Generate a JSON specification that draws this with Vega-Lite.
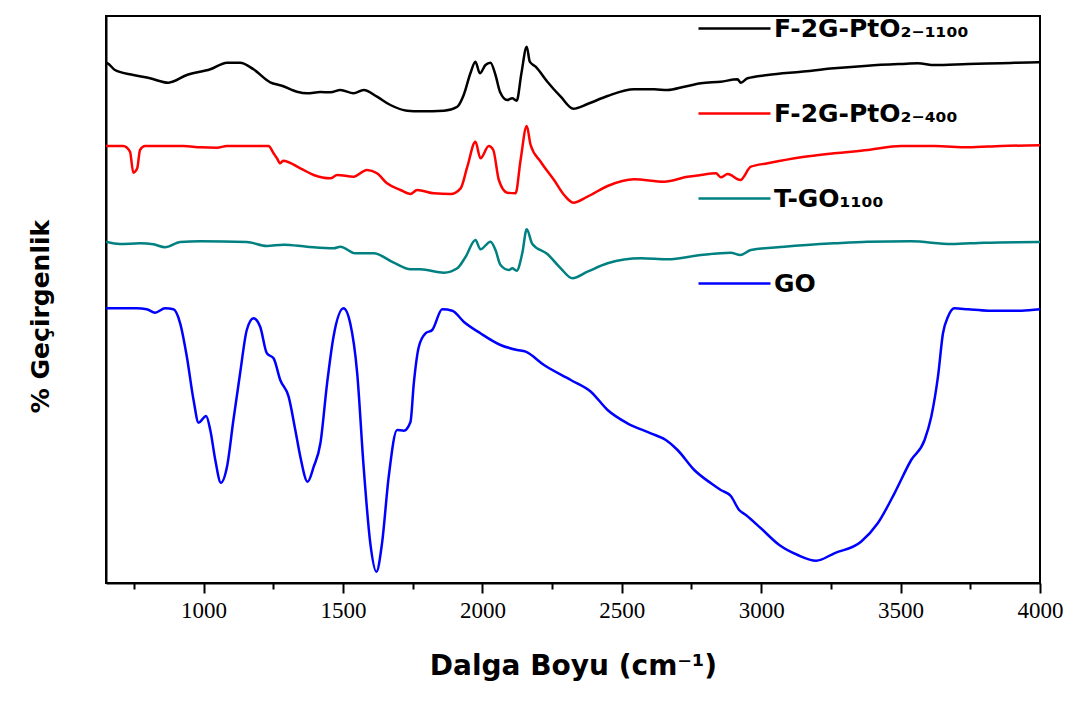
{
  "$schema": "https://vega.github.io/schema/vega-lite/v6.json",
  "width": 934,
  "height": 567,
  "autosize": {"type": "none"},
  "padding": {"left": 106, "top": 16, "right": 44, "bottom": 119},
  "background": "white",
  "config": {"view": {"stroke": "black", "strokeWidth": 2}},
  "data": {"values": [
    {"sample":"F-2G-PtO2-1100","wavenumber":650,"T":520},{"sample":"F-2G-PtO2-1100","wavenumber":655,"T":519.7},{"sample":"F-2G-PtO2-1100","wavenumber":682,"T":513},{"sample":"F-2G-PtO2-1100","wavenumber":748,"T":508},{"sample":"F-2G-PtO2-1100","wavenumber":808,"T":504.7},{"sample":"F-2G-PtO2-1100","wavenumber":874,"T":500.3},{"sample":"F-2G-PtO2-1100","wavenumber":940,"T":508},{"sample":"F-2G-PtO2-1100","wavenumber":1024,"T":513.7},{"sample":"F-2G-PtO2-1100","wavenumber":1084,"T":520.3},{"sample":"F-2G-PtO2-1100","wavenumber":1131,"T":520.3},{"sample":"F-2G-PtO2-1100","wavenumber":1179,"T":513.7},{"sample":"F-2G-PtO2-1100","wavenumber":1239,"T":500.7},{"sample":"F-2G-PtO2-1100","wavenumber":1281,"T":497.3},{"sample":"F-2G-PtO2-1100","wavenumber":1335,"T":491.3},{"sample":"F-2G-PtO2-1100","wavenumber":1371,"T":489.7},{"sample":"F-2G-PtO2-1100","wavenumber":1419,"T":491},{"sample":"F-2G-PtO2-1100","wavenumber":1455,"T":490.7},{"sample":"F-2G-PtO2-1100","wavenumber":1491,"T":493},{"sample":"F-2G-PtO2-1100","wavenumber":1538,"T":489.7},{"sample":"F-2G-PtO2-1100","wavenumber":1574,"T":493},{"sample":"F-2G-PtO2-1100","wavenumber":1622,"T":486.3},{"sample":"F-2G-PtO2-1100","wavenumber":1670,"T":478},{"sample":"F-2G-PtO2-1100","wavenumber":1730,"T":472.3},{"sample":"F-2G-PtO2-1100","wavenumber":1778,"T":471.7},{"sample":"F-2G-PtO2-1100","wavenumber":1862,"T":472.3},{"sample":"F-2G-PtO2-1100","wavenumber":1910,"T":476.3},{"sample":"F-2G-PtO2-1100","wavenumber":1933,"T":488},{"sample":"F-2G-PtO2-1100","wavenumber":1957,"T":509.7},{"sample":"F-2G-PtO2-1100","wavenumber":1975,"T":521.3},{"sample":"F-2G-PtO2-1100","wavenumber":1991,"T":509.7},{"sample":"F-2G-PtO2-1100","wavenumber":2011,"T":518},{"sample":"F-2G-PtO2-1100","wavenumber":2029,"T":520.3},{"sample":"F-2G-PtO2-1100","wavenumber":2047,"T":508},{"sample":"F-2G-PtO2-1100","wavenumber":2063,"T":491.3},{"sample":"F-2G-PtO2-1100","wavenumber":2089,"T":483},{"sample":"F-2G-PtO2-1100","wavenumber":2107,"T":484.7},{"sample":"F-2G-PtO2-1100","wavenumber":2123,"T":482.3},{"sample":"F-2G-PtO2-1100","wavenumber":2140,"T":509.7},{"sample":"F-2G-PtO2-1100","wavenumber":2159,"T":536.3},{"sample":"F-2G-PtO2-1100","wavenumber":2170,"T":521.3},{"sample":"F-2G-PtO2-1100","wavenumber":2191,"T":516.3},{"sample":"F-2G-PtO2-1100","wavenumber":2233,"T":501.3},{"sample":"F-2G-PtO2-1100","wavenumber":2281,"T":486.3},{"sample":"F-2G-PtO2-1100","wavenumber":2326,"T":474.3},{"sample":"F-2G-PtO2-1100","wavenumber":2377,"T":479},{"sample":"F-2G-PtO2-1100","wavenumber":2449,"T":487},{"sample":"F-2G-PtO2-1100","wavenumber":2544,"T":493.7},{"sample":"F-2G-PtO2-1100","wavenumber":2616,"T":493.7},{"sample":"F-2G-PtO2-1100","wavenumber":2664,"T":493},{"sample":"F-2G-PtO2-1100","wavenumber":2724,"T":496.3},{"sample":"F-2G-PtO2-1100","wavenumber":2784,"T":499.7},{"sample":"F-2G-PtO2-1100","wavenumber":2855,"T":501.3},{"sample":"F-2G-PtO2-1100","wavenumber":2915,"T":503.7},{"sample":"F-2G-PtO2-1100","wavenumber":2927,"T":500.3},{"sample":"F-2G-PtO2-1100","wavenumber":2951,"T":504.7},{"sample":"F-2G-PtO2-1100","wavenumber":3023,"T":508},{"sample":"F-2G-PtO2-1100","wavenumber":3143,"T":511.3},{"sample":"F-2G-PtO2-1100","wavenumber":3262,"T":514.7},{"sample":"F-2G-PtO2-1100","wavenumber":3382,"T":517.3},{"sample":"F-2G-PtO2-1100","wavenumber":3502,"T":519},{"sample":"F-2G-PtO2-1100","wavenumber":3562,"T":519.7},{"sample":"F-2G-PtO2-1100","wavenumber":3622,"T":518},{"sample":"F-2G-PtO2-1100","wavenumber":3742,"T":519},{"sample":"F-2G-PtO2-1100","wavenumber":3861,"T":519.7},{"sample":"F-2G-PtO2-1100","wavenumber":3993,"T":520.7},{"sample":"F-2G-PtO2-1100","wavenumber":4000,"T":520.7},
    {"sample":"F-2G-PtO2-400","wavenumber":650,"T":437},{"sample":"F-2G-PtO2-400","wavenumber":712,"T":437},{"sample":"F-2G-PtO2-400","wavenumber":736,"T":431.3},{"sample":"F-2G-PtO2-400","wavenumber":748,"T":410.3},{"sample":"F-2G-PtO2-400","wavenumber":762,"T":414.7},{"sample":"F-2G-PtO2-400","wavenumber":772,"T":433},{"sample":"F-2G-PtO2-400","wavenumber":790,"T":437},{"sample":"F-2G-PtO2-400","wavenumber":928,"T":437},{"sample":"F-2G-PtO2-400","wavenumber":988,"T":435.7},{"sample":"F-2G-PtO2-400","wavenumber":1048,"T":435.3},{"sample":"F-2G-PtO2-400","wavenumber":1084,"T":437},{"sample":"F-2G-PtO2-400","wavenumber":1233,"T":437},{"sample":"F-2G-PtO2-400","wavenumber":1251,"T":429.7},{"sample":"F-2G-PtO2-400","wavenumber":1263,"T":424.7},{"sample":"F-2G-PtO2-400","wavenumber":1275,"T":419.7},{"sample":"F-2G-PtO2-400","wavenumber":1285,"T":422.3},{"sample":"F-2G-PtO2-400","wavenumber":1347,"T":414.7},{"sample":"F-2G-PtO2-400","wavenumber":1395,"T":408},{"sample":"F-2G-PtO2-400","wavenumber":1455,"T":404.7},{"sample":"F-2G-PtO2-400","wavenumber":1479,"T":408},{"sample":"F-2G-PtO2-400","wavenumber":1538,"T":406.3},{"sample":"F-2G-PtO2-400","wavenumber":1586,"T":413},{"sample":"F-2G-PtO2-400","wavenumber":1622,"T":409.7},{"sample":"F-2G-PtO2-400","wavenumber":1658,"T":399.7},{"sample":"F-2G-PtO2-400","wavenumber":1706,"T":393},{"sample":"F-2G-PtO2-400","wavenumber":1742,"T":389},{"sample":"F-2G-PtO2-400","wavenumber":1766,"T":393},{"sample":"F-2G-PtO2-400","wavenumber":1826,"T":389.7},{"sample":"F-2G-PtO2-400","wavenumber":1886,"T":389},{"sample":"F-2G-PtO2-400","wavenumber":1922,"T":394.7},{"sample":"F-2G-PtO2-400","wavenumber":1946,"T":416.3},{"sample":"F-2G-PtO2-400","wavenumber":1975,"T":441.3},{"sample":"F-2G-PtO2-400","wavenumber":1993,"T":424.7},{"sample":"F-2G-PtO2-400","wavenumber":2023,"T":437},{"sample":"F-2G-PtO2-400","wavenumber":2039,"T":433},{"sample":"F-2G-PtO2-400","wavenumber":2059,"T":403},{"sample":"F-2G-PtO2-400","wavenumber":2089,"T":390.3},{"sample":"F-2G-PtO2-400","wavenumber":2119,"T":389.7},{"sample":"F-2G-PtO2-400","wavenumber":2137,"T":423},{"sample":"F-2G-PtO2-400","wavenumber":2159,"T":457},{"sample":"F-2G-PtO2-400","wavenumber":2173,"T":438},{"sample":"F-2G-PtO2-400","wavenumber":2209,"T":421.3},{"sample":"F-2G-PtO2-400","wavenumber":2257,"T":403},{"sample":"F-2G-PtO2-400","wavenumber":2293,"T":388},{"sample":"F-2G-PtO2-400","wavenumber":2326,"T":380.3},{"sample":"F-2G-PtO2-400","wavenumber":2377,"T":386.3},{"sample":"F-2G-PtO2-400","wavenumber":2449,"T":397},{"sample":"F-2G-PtO2-400","wavenumber":2544,"T":403.7},{"sample":"F-2G-PtO2-400","wavenumber":2652,"T":401.3},{"sample":"F-2G-PtO2-400","wavenumber":2736,"T":406.3},{"sample":"F-2G-PtO2-400","wavenumber":2784,"T":408},{"sample":"F-2G-PtO2-400","wavenumber":2838,"T":409.7},{"sample":"F-2G-PtO2-400","wavenumber":2855,"T":405.7},{"sample":"F-2G-PtO2-400","wavenumber":2880,"T":409},{"sample":"F-2G-PtO2-400","wavenumber":2925,"T":403},{"sample":"F-2G-PtO2-400","wavenumber":2963,"T":416.3},{"sample":"F-2G-PtO2-400","wavenumber":3023,"T":419.7},{"sample":"F-2G-PtO2-400","wavenumber":3143,"T":425.7},{"sample":"F-2G-PtO2-400","wavenumber":3262,"T":429.7},{"sample":"F-2G-PtO2-400","wavenumber":3382,"T":433},{"sample":"F-2G-PtO2-400","wavenumber":3502,"T":437},{"sample":"F-2G-PtO2-400","wavenumber":3622,"T":437},{"sample":"F-2G-PtO2-400","wavenumber":3742,"T":435.7},{"sample":"F-2G-PtO2-400","wavenumber":3861,"T":437},{"sample":"F-2G-PtO2-400","wavenumber":4000,"T":437.7},
    {"sample":"T-GO1100","wavenumber":650,"T":341.3},{"sample":"T-GO1100","wavenumber":700,"T":339},{"sample":"T-GO1100","wavenumber":772,"T":339.7},{"sample":"T-GO1100","wavenumber":820,"T":338.7},{"sample":"T-GO1100","wavenumber":862,"T":335.7},{"sample":"T-GO1100","wavenumber":916,"T":341},{"sample":"T-GO1100","wavenumber":988,"T":341.7},{"sample":"T-GO1100","wavenumber":1155,"T":341},{"sample":"T-GO1100","wavenumber":1227,"T":337},{"sample":"T-GO1100","wavenumber":1287,"T":338.3},{"sample":"T-GO1100","wavenumber":1371,"T":336.3},{"sample":"T-GO1100","wavenumber":1466,"T":334.7},{"sample":"T-GO1100","wavenumber":1491,"T":336.3},{"sample":"T-GO1100","wavenumber":1544,"T":329.7},{"sample":"T-GO1100","wavenumber":1610,"T":329.7},{"sample":"T-GO1100","wavenumber":1682,"T":320.3},{"sample":"T-GO1100","wavenumber":1742,"T":313.7},{"sample":"T-GO1100","wavenumber":1778,"T":313.7},{"sample":"T-GO1100","wavenumber":1862,"T":310.3},{"sample":"T-GO1100","wavenumber":1910,"T":314.7},{"sample":"T-GO1100","wavenumber":1940,"T":326.3},{"sample":"T-GO1100","wavenumber":1975,"T":343},{"sample":"T-GO1100","wavenumber":1993,"T":333.7},{"sample":"T-GO1100","wavenumber":2029,"T":341.3},{"sample":"T-GO1100","wavenumber":2047,"T":333},{"sample":"T-GO1100","wavenumber":2065,"T":318},{"sample":"T-GO1100","wavenumber":2095,"T":313},{"sample":"T-GO1100","wavenumber":2107,"T":314.7},{"sample":"T-GO1100","wavenumber":2123,"T":312.3},{"sample":"T-GO1100","wavenumber":2143,"T":329.7},{"sample":"T-GO1100","wavenumber":2159,"T":353.7},{"sample":"T-GO1100","wavenumber":2179,"T":339},{"sample":"T-GO1100","wavenumber":2233,"T":329},{"sample":"T-GO1100","wavenumber":2281,"T":314.7},{"sample":"T-GO1100","wavenumber":2323,"T":304.7},{"sample":"T-GO1100","wavenumber":2377,"T":311.3},{"sample":"T-GO1100","wavenumber":2449,"T":319.7},{"sample":"T-GO1100","wavenumber":2568,"T":324.7},{"sample":"T-GO1100","wavenumber":2664,"T":323.7},{"sample":"T-GO1100","wavenumber":2784,"T":328},{"sample":"T-GO1100","wavenumber":2891,"T":330.3},{"sample":"T-GO1100","wavenumber":2925,"T":328},{"sample":"T-GO1100","wavenumber":2963,"T":333},{"sample":"T-GO1100","wavenumber":3083,"T":336.3},{"sample":"T-GO1100","wavenumber":3262,"T":339.7},{"sample":"T-GO1100","wavenumber":3382,"T":341.3},{"sample":"T-GO1100","wavenumber":3538,"T":341.7},{"sample":"T-GO1100","wavenumber":3682,"T":339},{"sample":"T-GO1100","wavenumber":3801,"T":340.3},{"sample":"T-GO1100","wavenumber":4000,"T":341},
    {"sample":"GO","wavenumber":650,"T":274.7},{"sample":"GO","wavenumber":760,"T":274.7},{"sample":"GO","wavenumber":796,"T":273.7},{"sample":"GO","wavenumber":826,"T":270.3},{"sample":"GO","wavenumber":862,"T":274.7},{"sample":"GO","wavenumber":892,"T":273.7},{"sample":"GO","wavenumber":916,"T":259.7},{"sample":"GO","wavenumber":940,"T":226.3},{"sample":"GO","wavenumber":964,"T":183},{"sample":"GO","wavenumber":982,"T":160.3},{"sample":"GO","wavenumber":1009,"T":167},{"sample":"GO","wavenumber":1024,"T":153},{"sample":"GO","wavenumber":1042,"T":123},{"sample":"GO","wavenumber":1062,"T":100.3},{"sample":"GO","wavenumber":1084,"T":116.3},{"sample":"GO","wavenumber":1107,"T":163},{"sample":"GO","wavenumber":1131,"T":209.7},{"sample":"GO","wavenumber":1155,"T":253},{"sample":"GO","wavenumber":1179,"T":264.7},{"sample":"GO","wavenumber":1203,"T":256.3},{"sample":"GO","wavenumber":1227,"T":229.7},{"sample":"GO","wavenumber":1251,"T":224.7},{"sample":"GO","wavenumber":1275,"T":203},{"sample":"GO","wavenumber":1305,"T":186.3},{"sample":"GO","wavenumber":1329,"T":153},{"sample":"GO","wavenumber":1347,"T":126.3},{"sample":"GO","wavenumber":1373,"T":101.3},{"sample":"GO","wavenumber":1395,"T":116.3},{"sample":"GO","wavenumber":1419,"T":139.7},{"sample":"GO","wavenumber":1443,"T":199.7},{"sample":"GO","wavenumber":1466,"T":246.3},{"sample":"GO","wavenumber":1502,"T":274.7},{"sample":"GO","wavenumber":1526,"T":259.7},{"sample":"GO","wavenumber":1551,"T":209.7},{"sample":"GO","wavenumber":1574,"T":116.3},{"sample":"GO","wavenumber":1598,"T":39.7},{"sample":"GO","wavenumber":1620,"T":11.3},{"sample":"GO","wavenumber":1640,"T":39.7},{"sample":"GO","wavenumber":1664,"T":106.3},{"sample":"GO","wavenumber":1694,"T":153},{"sample":"GO","wavenumber":1718,"T":152.3},{"sample":"GO","wavenumber":1742,"T":161},{"sample":"GO","wavenumber":1754,"T":199.7},{"sample":"GO","wavenumber":1772,"T":236.3},{"sample":"GO","wavenumber":1796,"T":249.7},{"sample":"GO","wavenumber":1820,"T":253},{"sample":"GO","wavenumber":1856,"T":273.7},{"sample":"GO","wavenumber":1892,"T":272.3},{"sample":"GO","wavenumber":1933,"T":261.3},{"sample":"GO","wavenumber":1993,"T":249.7},{"sample":"GO","wavenumber":2065,"T":238},{"sample":"GO","wavenumber":2125,"T":233},{"sample":"GO","wavenumber":2155,"T":231.3},{"sample":"GO","wavenumber":2221,"T":218},{"sample":"GO","wavenumber":2317,"T":203},{"sample":"GO","wavenumber":2389,"T":191.3},{"sample":"GO","wavenumber":2449,"T":173},{"sample":"GO","wavenumber":2520,"T":159.7},{"sample":"GO","wavenumber":2604,"T":149.7},{"sample":"GO","wavenumber":2658,"T":143},{"sample":"GO","wavenumber":2700,"T":133},{"sample":"GO","wavenumber":2760,"T":113},{"sample":"GO","wavenumber":2820,"T":99.7},{"sample":"GO","wavenumber":2855,"T":93},{"sample":"GO","wavenumber":2891,"T":87},{"sample":"GO","wavenumber":2921,"T":73},{"sample":"GO","wavenumber":2945,"T":68},{"sample":"GO","wavenumber":2999,"T":54.7},{"sample":"GO","wavenumber":3065,"T":38},{"sample":"GO","wavenumber":3131,"T":28},{"sample":"GO","wavenumber":3197,"T":22.3},{"sample":"GO","wavenumber":3262,"T":29.7},{"sample":"GO","wavenumber":3358,"T":41.3},{"sample":"GO","wavenumber":3418,"T":59.7},{"sample":"GO","wavenumber":3478,"T":89.7},{"sample":"GO","wavenumber":3538,"T":123},{"sample":"GO","wavenumber":3586,"T":143},{"sample":"GO","wavenumber":3610,"T":166.3},{"sample":"GO","wavenumber":3634,"T":206.3},{"sample":"GO","wavenumber":3652,"T":249.7},{"sample":"GO","wavenumber":3670,"T":266.3},{"sample":"GO","wavenumber":3693,"T":274.7},{"sample":"GO","wavenumber":3742,"T":273.7},{"sample":"GO","wavenumber":3813,"T":272.3},{"sample":"GO","wavenumber":3933,"T":272.3},{"sample":"GO","wavenumber":4000,"T":273.7}
  ]},
  "mark": {"type": "line", "strokeWidth": 2.5, "interpolate": "monotone", "clip": true},
  "encoding": {
    "x": {
      "field": "wavenumber", "type": "quantitative",
      "scale": {"domain": [650, 4000], "nice": false, "zero": false},
      "axis": {
        "title": "Dalga Boyu (cm⁻¹)",
        "values": [750, 1000, 1250, 1500, 1750, 2000, 2250, 2500, 2750, 3000, 3250, 3500, 3750, 4000],
        "format": "d",
        "labelExpr": "datum.value % 500 === 0 ? datum.label : ''",
        "tickSize": {"condition": {"test": "datum.value % 500 === 0", "value": 10}, "value": 6},
        "tickWidth": 2, "tickColor": "black",
        "domainColor": "black", "domainWidth": 2,
        "grid": false,
        "labelFont": "Liberation Serif", "labelFontSize": 23, "labelColor": "black", "labelPadding": 6, "labelFlush": false,
        "titleFont": "DejaVu Sans", "titleFontSize": 28, "titleFontWeight": "bold", "titleColor": "black", "titlePadding": 30
      }
    },
    "y": {
      "field": "T", "type": "quantitative",
      "scale": {"domain": [0, 567], "nice": false, "zero": false},
      "axis": {
        "title": "% Geçirgenlik",
        "labels": false, "ticks": false, "grid": false,
        "domainColor": "black", "domainWidth": 2,
        "titleFont": "DejaVu Sans", "titleFontSize": 25, "titleFontWeight": "bold", "titleColor": "black", "titlePadding": 53, "titleY": 300
      }
    },
    "color": {
      "field": "sample", "type": "nominal",
      "scale": {"domain": ["F-2G-PtO2-1100", "F-2G-PtO2-400", "T-GO1100", "GO"], "range": ["#000000", "#ff0000", "#008080", "#0000ff"]},
      "legend": {
        "title": null, "orient": "none", "legendX": 591, "legendY": -25, "direction": "vertical",
        "symbolType": "stroke", "symbolSize": 5184, "symbolStrokeWidth": 2.5,
        "labelFont": "DejaVu Sans", "labelFontSize": 25, "labelFontWeight": "bold", "labelColor": "black", "labelOffset": 2, "labelLimit": 400,
        "rowPadding": 34,
        "labelExpr": "datum.label === 'F-2G-PtO2-1100' ? 'F-2G-PtO₂₋₁₁₀₀' : datum.label === 'F-2G-PtO2-400' ? 'F-2G-PtO₂₋₄₀₀' : datum.label === 'T-GO1100' ? 'T-GO₁₁₀₀' : datum.label"
      }
    }
  }
}
